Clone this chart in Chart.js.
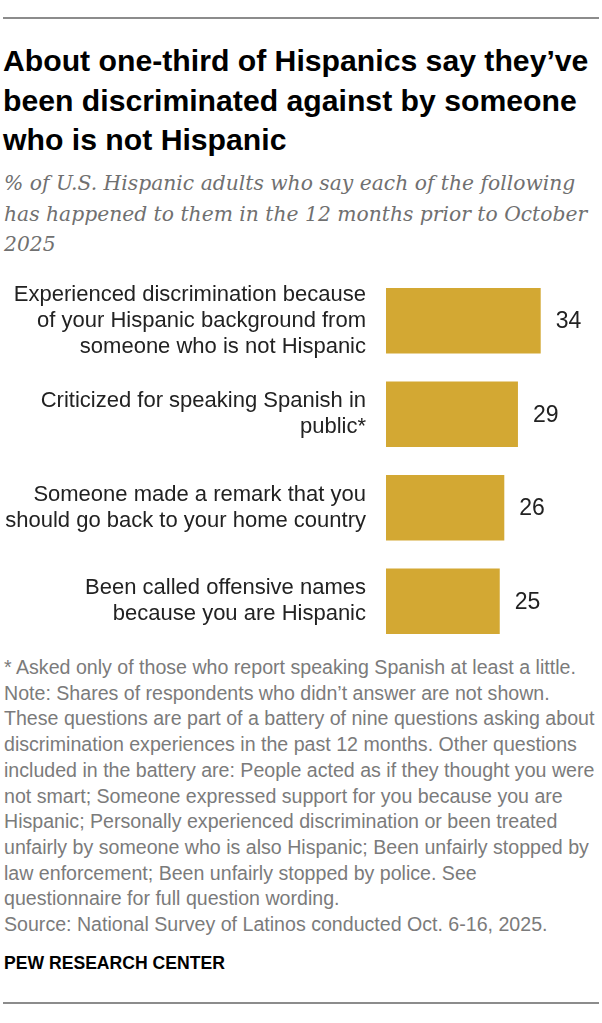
<!DOCTYPE html>
<html>
<head>
<meta charset="utf-8">
<script src="https://cdn.jsdelivr.net/npm/chart.js@4"></script>
<style>
  html, body { margin:0; padding:0; background:#fff; }
  body { width:602px; height:1023px; position:relative; overflow:hidden; font-family:"Liberation Sans", Arial, sans-serif; }
  .rule { position:absolute; left:3px; width:596px; height:2px; background:#8c8c8c; }
  #title { position:absolute; left:3px; top:41px; font-weight:bold; font-size:30.2px; line-height:39.5px; color:#000; white-space:nowrap; }
  #subtitle { position:absolute; left:4px; top:168px; font-family:"DejaVu Serif", serif; font-style:italic; font-size:20.3px; line-height:30.5px; color:#707070; white-space:nowrap; }
  #chartWrap { position:absolute; left:0; top:274px; width:602px; height:374px; }
  #notes { position:absolute; left:4px; top:655px; font-size:19.6px; line-height:25.7px; color:#7b7b7b; white-space:nowrap; }
  #pew { position:absolute; left:4px; top:951px; font-size:17.6px; font-weight:bold; line-height:24px; color:#000; }
</style>
</head>
<body>
<div class="rule" style="top:17px"></div>
<div id="title">About one-third of Hispanics say they’ve<br>been discriminated against by someone<br>who is not Hispanic</div>
<div id="subtitle">% of U.S. Hispanic adults who say each of the following<br>has happened to them in the 12 months prior to October<br>2025</div>
<div id="chartWrap"><canvas id="c" width="602" height="374"></canvas></div>
<div id="notes">* Asked only of those who report speaking Spanish at least a little.<br>Note: Shares of respondents who didn’t answer are not shown.<br>These questions are part of a battery of nine questions asking about<br>discrimination experiences in the past 12 months. Other questions<br>included in the battery are: People acted as if they thought you were<br>not smart; Someone expressed support for you because you are<br>Hispanic; Personally experienced discrimination or been treated<br>unfairly by someone who is also Hispanic; Been unfairly stopped by<br>law enforcement; Been unfairly stopped by police. See<br>questionnaire for full question wording.<br>Source: National Survey of Latinos conducted Oct. 6-16, 2025.</div>
<div id="pew">PEW RESEARCH CENTER</div>
<div class="rule" style="top:1002px"></div>
<script>
const categories = [
  ["Experienced discrimination because", "of your Hispanic background from", "someone who is not Hispanic"],
  ["Criticized for speaking Spanish in", "public*"],
  ["Someone made a remark that you", "should go back to your home country"],
  ["Been called offensive names", "because you are Hispanic"]
];
const values = [34, 29, 26, 25];

const valueLabels = {
  id: 'valueLabels',
  afterDatasetsDraw(chart) {
    const ctx = chart.ctx;
    const meta = chart.getDatasetMeta(0);
    ctx.save();
    ctx.font = '23px "Liberation Sans", Arial, sans-serif';
    ctx.fillStyle = '#222';
    ctx.textAlign = 'left';
    ctx.textBaseline = 'middle';
    meta.data.forEach((bar, i) => {
      ctx.fillText(String(values[i]), bar.x + 15, bar.y + 1);
    });
    ctx.restore();
  }
};

new Chart(document.getElementById('c'), {
  type: 'bar',
  data: {
    labels: categories,
    datasets: [{
      data: values,
      backgroundColor: '#d3a833',
      borderWidth: 0,
      barPercentage: 0.7,
      categoryPercentage: 1.0
    }]
  },
  options: {
    indexAxis: 'y',
    responsive: false,
    animation: false,
    layout: { padding: { left: 0, right: 34, top: 0, bottom: 0 } },
    plugins: { legend: { display: false }, tooltip: { enabled: false } },
    scales: {
      x: { display: false, min: 0, max: 40 },
      y: {
        afterFit(scale) { scale.width = 386; scale.paddingTop = 0; scale.paddingBottom = 0; },
        grid: { display: false, drawTicks: false },
        border: { display: false },
        ticks: {
          padding: 20,
          color: '#222',
          font: { family: '"Liberation Sans", Arial, sans-serif', size: 22, lineHeight: 1.19 }
        }
      }
    }
  },
  plugins: [valueLabels]
});
</script>
</body>
</html>
